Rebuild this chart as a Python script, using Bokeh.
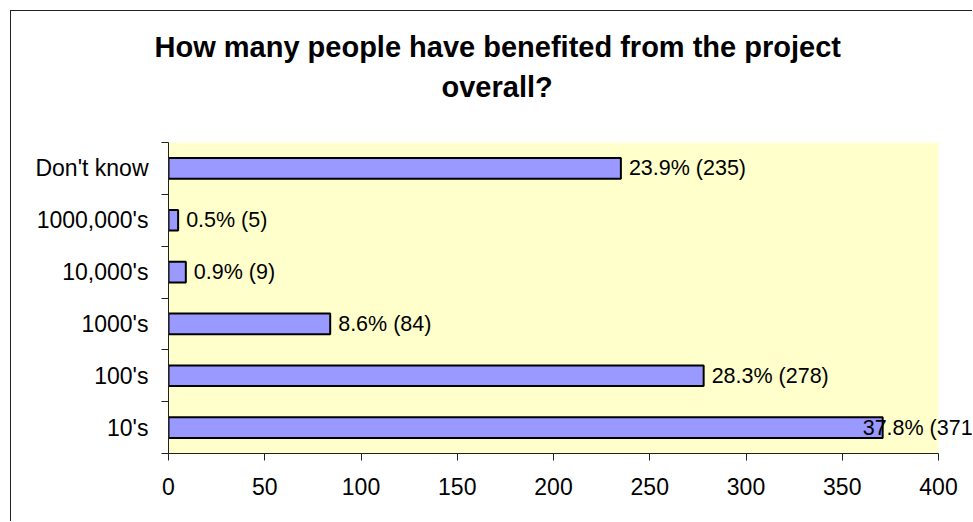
from bokeh.plotting import figure
from bokeh.models import (Range1d, FixedTicker, ColumnDataSource, LabelSet, Title, BoxAnnotation)
from bokeh.core.properties import value
from bokeh.embed import file_html
from bokeh.resources import INLINE

categories = ["Don't know", "1000,000's", "10,000's", "1000's", "100's", "10's"]
counts = [235, 5, 9, 84, 278, 371]
percents = [23.9, 0.5, 0.9, 8.6, 28.3, 37.8]
x_ticks = [0, 50, 100, 150, 200, 250, 300, 350, 400]
x_max = 400

n = len(categories)
ypos = [n - 0.5 - i for i in range(n)]
labels = [f"{p}% ({c})" for p, c in zip(percents, counts)]
offsets = [-20 if c == max(counts) else 8 for c in counts]

src = ColumnDataSource(dict(cat=categories, y=ypos, v=counts, lab=labels, off=offsets))

FONT = "Liberation Sans"

# plot frame extends past the axis end so data labels can overflow to the chart edge
frame_px, axis_px = 805, 770
p = figure(width=962, height=511, x_range=Range1d(0, x_max * frame_px / axis_px), y_range=Range1d(0, n),
           output_backend="svg", toolbar_location=None,
           min_border_left=157, min_border_right=0, min_border_top=131, min_border_bottom=69)
p.margin = (10, 0, 0, 10)
p.styles = {"border-top": "1.5px solid #222", "border-left": "1.5px solid #222"}

p.background_fill_color = "white"
p.border_fill_color = "white"
p.outline_line_color = None
p.grid.visible = False

p.add_layout(BoxAnnotation(left=0, right=x_max, fill_color="#FFFFCC", fill_alpha=1,
                           line_color=None, level="underlay"))

p.hbar(y="y", right="v", left=0, height=0.4, source=src,
       fill_color="#9999FF", line_color="black", line_width=2)

ls = LabelSet(x="v", y="y", text="lab", x_offset="off", source=src,
              text_baseline="middle", text_align="left",
              text_font=value(FONT), text_font_size="21.5px", text_color="black")
p.add_layout(ls)

# axes
xa = p.xaxis[0]
xa.ticker = FixedTicker(ticks=x_ticks)
xa.bounds = (0, x_max)
xa.major_tick_out = 7
xa.major_tick_in = 0
xa.minor_tick_out = 0
xa.major_label_standoff = 17
xa.major_label_text_font = FONT
xa.major_label_text_font_size = "23px"
xa.major_label_text_color = "black"
xa.axis_line_color = "#222"
xa.major_tick_line_color = "#222"

ya = p.yaxis[0]
ya.ticker = FixedTicker(ticks=ypos, minor_ticks=list(range(n + 1)))
ya.major_label_overrides = {y: c for y, c in zip(ypos, categories)}
ya.major_tick_out = 0
ya.major_tick_in = 0
ya.minor_tick_out = 7
ya.minor_tick_in = 0
ya.minor_tick_line_color = "#222"
ya.major_label_standoff = 13
ya.major_label_text_font = FONT
ya.major_label_text_font_size = "23px"
ya.major_label_text_color = "black"
ya.axis_line_color = "#222"

# title: spacer panel nearest the frame, then the two title lines
spacer = Title(text=" ", text_font_size="2px", standoff=34)
t2 = Title(text="overall?", align="left", text_font=FONT, text_font_size="29px",
           text_font_style="bold", text_color="black", standoff=4, offset=273)
t1 = Title(text="How many people have benefited from the project", align="left",
           text_font=FONT, text_font_size="29px", text_font_style="bold",
           text_color="black", standoff=8, offset=-14)
p.add_layout(spacer, "above")
p.add_layout(t2, "above")
p.add_layout(t1, "above")

open("out.html", "w").write(file_html(p, INLINE))
